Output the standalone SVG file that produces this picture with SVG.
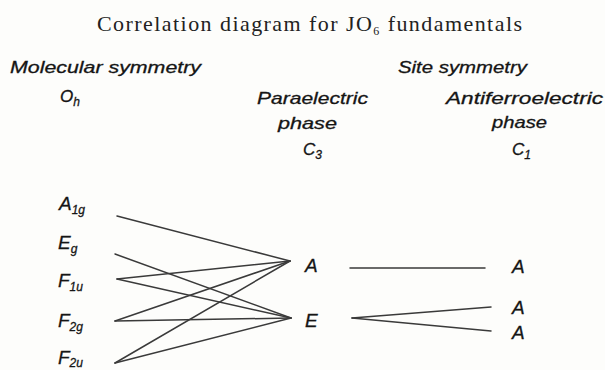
<svg xmlns="http://www.w3.org/2000/svg" width="605" height="370" viewBox="0 0 605 370">
<style>
.t{font-family:"Liberation Serif","Times New Roman",serif;font-size:22px;fill:#222}
.s{font-family:"Liberation Sans",Arial,sans-serif;font-style:italic;font-size:17px;fill:#151515;stroke:#151515;stroke-width:0.3}
.n{font-size:19px}
.sub{font-size:12px}
.c line{stroke:#3a3a3a;stroke-width:1.5;stroke-linecap:round}
</style>
<rect width="605" height="370" fill="#fdfdfb"/>
<text class="t" x="97" y="31" textLength="425" lengthAdjust="spacing">Correlation diagram for JO<tspan class="sub" dy="4">6</tspan><tspan dy="-4"> fundamentals</tspan></text>
<g id="headers">
<text class="s" x="10" y="73" textLength="191" lengthAdjust="spacingAndGlyphs">Molecular symmetry</text>
<text class="s" x="398" y="73" textLength="129" lengthAdjust="spacingAndGlyphs">Site symmetry</text>
<text class="s" x="60" y="102">O<tspan class="sub" dy="4">h</tspan></text>
<text class="s" x="257" y="104" textLength="111" lengthAdjust="spacingAndGlyphs">Paraelectric</text>
<text class="s" x="278" y="129" textLength="59" lengthAdjust="spacingAndGlyphs">phase</text>
<text class="s" x="303" y="155">C<tspan class="sub" dy="4">3</tspan></text>
<text class="s" x="446" y="104" textLength="157" lengthAdjust="spacingAndGlyphs">Antiferroelectric</text>
<text class="s" x="492" y="128" textLength="55" lengthAdjust="spacingAndGlyphs">phase</text>
<text class="s" x="512" y="155">C<tspan class="sub" dy="4">1</tspan></text>
</g>
<g id="oh-A1g"><text class="s n" x="59" y="210">A<tspan class="sub" dy="4">1g</tspan></text></g>
<g id="oh-Eg"><text class="s n" x="58" y="249">E<tspan class="sub" dy="4">g</tspan></text></g>
<g id="oh-F1u"><text class="s n" x="58" y="287">F<tspan class="sub" dy="4">1u</tspan></text></g>
<g id="oh-F2g"><text class="s n" x="58" y="327">F<tspan class="sub" dy="4">2g</tspan></text></g>
<g id="oh-F2u"><text class="s n" x="58" y="364">F<tspan class="sub" dy="3">2u</tspan></text></g>
<g id="c3-A"><text class="s n" x="305" y="272">A</text></g>
<g id="c3-E"><text class="s n" x="305" y="327">E</text></g>
<g id="c1-A1"><text class="s n" x="512" y="273">A</text></g>
<g id="c1-A2"><text class="s n" x="512" y="314">A</text></g>
<g id="c1-A3"><text class="s n" x="512" y="339">A</text></g>
<g id="connectors" class="c">
<line x1="117" y1="216" x2="290" y2="261"/>
<line x1="115" y1="254" x2="291" y2="318"/>
<line x1="117" y1="279" x2="290" y2="261"/>
<line x1="117" y1="279" x2="291" y2="318"/>
<line x1="115" y1="321" x2="290" y2="261"/>
<line x1="115" y1="321" x2="291" y2="318"/>
<line x1="115" y1="363" x2="290" y2="261"/>
<line x1="115" y1="363" x2="291" y2="318"/>
<line x1="350" y1="268" x2="485" y2="268"/>
<line x1="352" y1="318" x2="491" y2="307"/>
<line x1="352" y1="318" x2="491" y2="331"/>
</g>
</svg>
